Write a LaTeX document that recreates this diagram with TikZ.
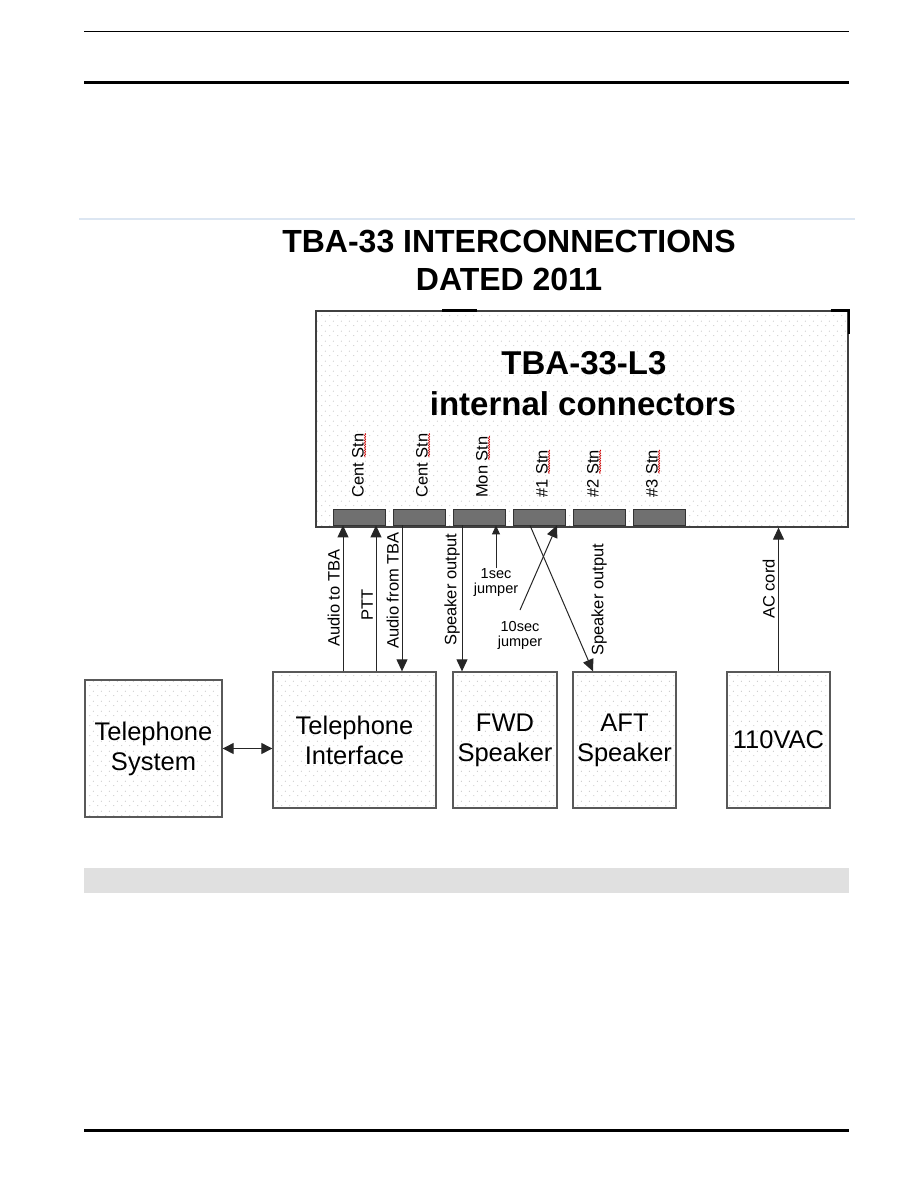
\documentclass[tikz,border=0pt]{standalone}
\usepackage{fontspec}
\setmainfont{Liberation Sans}
\usetikzlibrary{arrows.meta,patterns.meta,decorations.pathmorphing}
\definecolor{rulebl}{HTML}{DCE6F2}
\tikzdeclarepattern{name=paperdots, type=uncolored,
  bounding box={(0pt,0pt) and (8pt,10pt)}, tile size={(8pt,10pt)},
  code={\fill (2pt,2.5pt) circle (.55pt); \fill (6pt,7.5pt) circle (.55pt);}}
\begin{document}
\begin{tikzpicture}[x=1pt,y=-1pt,
  unit/.style={draw=black!65, line width=1.3pt, pattern=paperdots, pattern color=black!33, align=center, inner sep=0pt, font=\fontsize{25.5}{30}\selectfont},
  plug/.style={draw=black!80, fill=black!56, line width=.8pt, minimum width=52pt, minimum height=16pt, inner sep=0pt},
  sig/.style={draw=black!85, line width=1pt},
  tip/.style={-{Triangle[length=12pt,width=11pt]}},
  vlbl/.style={rotate=90, inner sep=1pt, font=\fontsize{16.5}{19}\selectfont},
  note/.style={align=center, inner sep=0pt, font=\fontsize{14.5}{15}\selectfont},
  head/.style={font=\fontsize{32}{38}\selectfont\bfseries},
  boxhead/.style={font=\fontsize{33}{40}\selectfont\bfseries},
  squig/.style={draw=red!80!black, line width=.6pt, decorate, decoration={snake, segment length=2.5pt, amplitude=.7pt}}]
\useasboundingbox (0,0) rectangle (918,1188);
\draw[line width=1pt] (84,32) -- (849,32);
\draw[line width=3pt] (84,83) -- (849,83);
\draw[line width=2pt, rulebl] (79,219) -- (855,219);

\node[head, anchor=base] (title) at (509,252) {TBA-33 INTERCONNECTIONS};
\node[head, anchor=base] (dated) at (509,290) {DATED 2011};

\node[unit, draw=black!75, line width=1.2pt, minimum width=532pt, minimum height=216pt] (tba) at (582,419) {};
\draw[line width=2.2pt] ([xshift=127pt]tba.north west) -- ++(35,0);
\draw[line width=2.2pt] ([xshift=-18pt]tba.north east) -- (tba.north east) -- ([yshift=-24pt]tba.north east);
\node[boxhead, anchor=base] (tbaname) at (584,374) {TBA-33-L3};
\node[boxhead, anchor=base] (tbasub) at (583,415) {internal connectors};

\foreach \i/\stn/\lx in {1/Cent Stn/358,2/Cent Stn/422,3/Mon Stn/482,4/\#1 Stn/542,5/\#2 Stn/593,6/\#3 Stn/652}{
  \node[plug] (c\i) at ({299+60*\i},517) {};
  \node[vlbl, anchor=west] (s\i) at (\lx,499) {\stn};
  \draw[squig] ([yshift=-1pt]s\i.south east) -- ++(0,24);
}

\node[unit, minimum width=137pt, minimum height=137pt] (tsys) at (153.5,748.5) {Telephone\\System};
\node[unit, minimum width=163pt, minimum height=136pt] (tif) at (354.5,740) {Telephone\\Interface};
\node[unit, minimum width=104pt, minimum height=136pt] (fwd) at (505,740) {FWD\\Speaker};
\node[unit, minimum width=103pt, minimum height=136pt] (aft) at (624.5,740) {AFT\\Speaker};
\node[unit, minimum width=103pt, minimum height=136pt] (vac) at (778.5,740) {110VAC};

\coordinate (audin) at ([xshift=-16pt]c1.south);
\coordinate (ptt) at ([xshift=17pt]c1.south);
\coordinate (audout) at ([xshift=-17pt]c2.south);
\coordinate (spkf) at ([xshift=-17pt]c3.south);
\coordinate (jmp1) at ([xshift=17pt]c3.south);
\coordinate (jmp10) at ([xshift=18pt]c4.south);
\coordinate (spka) at ([xshift=-9pt]c4.south);
\coordinate (aftin) at ([xshift=-31.5pt]aft.north);

\node[vlbl, anchor=south west] (laud) at (341,648) {Audio to TBA};
\node[vlbl, anchor=south west] (lptt) at (374,622) {PTT};
\node[vlbl, anchor=south west] (lfrom) at (400,650) {Audio from TBA};
\node[vlbl, anchor=south west] (lfwd) at (461,647) {Speaker output};
\node[vlbl, anchor=south west] (laft) at (608,657) {Speaker output};
\node[vlbl, anchor=south west] (lac) at (776,620) {AC cord};
\node[note, anchor=north] (j1) at (496,568) {1sec\\jumper};
\node[note, anchor=north] (j10) at (520,621) {10sec\\jumper};

\draw[sig, tip] (tif.north -| audin) -- (audin);
\draw[sig, tip] (tif.north -| ptt) -- (ptt);
\draw[sig, tip] (audout) -- (tif.north -| audout);
\draw[sig, tip] (spkf) -- (fwd.north -| spkf);
\draw[sig, -{Triangle[length=9pt,width=8pt]}] (j1.north) -- (jmp1);
\draw[sig, tip] ([yshift=11pt]j10.north) -- (jmp10);
\draw[sig, tip] (spka) -- (aftin);
\draw[sig, tip] (vac.north) -- (vac.north |- tba.south);
\draw[sig, {Triangle[length=11pt,width=11pt]}-{Triangle[length=11pt,width=11pt]}] (tsys.east) -- (tsys.east -| tif.west);

\fill[black!12] (84,868) rectangle (849,893);
\draw[line width=3pt] (84,1130) -- (849,1130);
\end{tikzpicture}
\end{document}
